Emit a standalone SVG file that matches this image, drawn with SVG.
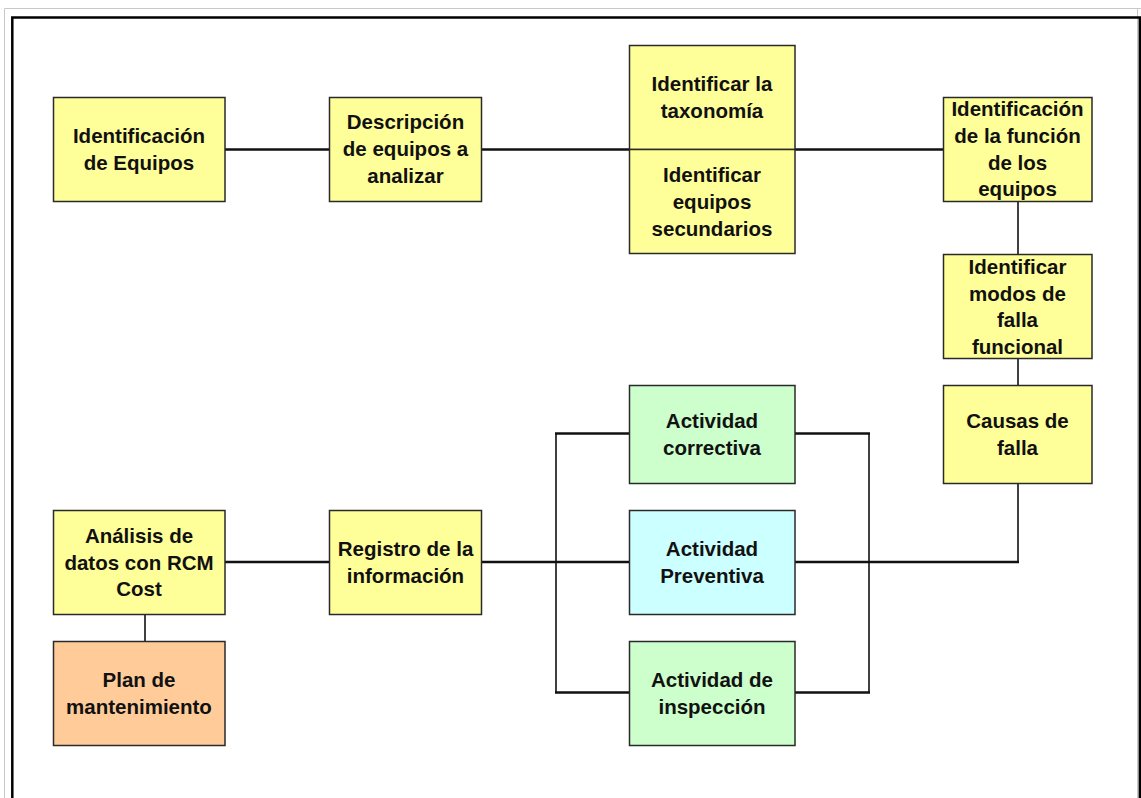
<svg xmlns="http://www.w3.org/2000/svg" width="1141" height="798" viewBox="0 0 1141 798">
  <style>
    .box { stroke: #2a2a2a; stroke-width: 1.5; }
    .yellow { fill: #ffff99; }
    .green { fill: #ccffcc; }
    .cyan { fill: #ccffff; }
    .orange { fill: #ffcc99; }
    .label { font-family: "Liberation Sans", Arial, sans-serif; font-weight: bold; font-size: 20.5px; fill: #111111; text-anchor: middle; }
    .wire { stroke: #111111; fill: none; }
    .thick { stroke-width: 2.6; }
    .thin { stroke-width: 1.6; }
  </style>

  <!-- page background and frame -->
  <rect x="0" y="0" width="1141" height="798" fill="#ffffff"/>
  <path d="M4.5 798 V8.5 H1141" fill="none" stroke="#c8c8c8" stroke-width="1"/>
  <line x1="1137.5" y1="8" x2="1137.5" y2="798" stroke="#c8c8c8" stroke-width="1"/>
  <path d="M12.3 798 V17.5 H1139.8 V798" fill="none" stroke="#000000" stroke-width="2.5"/>

  <!-- connectors -->
  <g id="connectors">
    <line class="wire thick" x1="225" y1="149.5" x2="329" y2="149.5"/>
    <line class="wire thick" x1="481" y1="149.5" x2="943" y2="149.5"/>
    <line class="wire thin" x1="1018" y1="201" x2="1018" y2="254"/>
    <line class="wire thin" x1="1018" y1="358" x2="1018" y2="385"/>
    <polyline class="wire thin" points="1018,483 1018,562"/>
    <line class="wire thick" x1="795" y1="562" x2="1019" y2="562"/>
    <line class="wire thick" x1="225" y1="562" x2="329" y2="562"/>
    <line class="wire thick" x1="481" y1="562" x2="629" y2="562"/>
    <line class="wire thin" x1="145" y1="614" x2="145" y2="641"/>
    <!-- left bracket -->
    <line class="wire thin" x1="556" y1="433" x2="556" y2="693"/>
    <line class="wire thick" x1="555" y1="433.5" x2="629" y2="433.5"/>
    <line class="wire thick" x1="555" y1="692.5" x2="629" y2="692.5"/>
    <!-- right bracket -->
    <line class="wire thin" x1="869" y1="433" x2="869" y2="693"/>
    <line class="wire thick" x1="795" y1="433.5" x2="870" y2="433.5"/>
    <line class="wire thick" x1="795" y1="692.5" x2="870" y2="692.5"/>
  </g>

  <!-- top row -->
  <g id="identificacion-equipos">
    <rect class="box yellow" x="53.5" y="97.5" width="171.5" height="104"/>
    <text class="label" x="139" y="142.5">Identificación</text>
    <text class="label" x="139" y="169.5">de Equipos</text>
  </g>

  <g id="descripcion-equipos">
    <rect class="box yellow" x="329.5" y="97.5" width="152" height="104"/>
    <text class="label" x="405.5" y="129">Descripción</text>
    <text class="label" x="405.5" y="156">de equipos a</text>
    <text class="label" x="405.5" y="183">analizar</text>
  </g>

  <g id="identificar-taxonomia">
    <rect class="box yellow" x="629.5" y="45.5" width="165.5" height="104"/>
    <text class="label" x="712" y="90.5">Identificar la</text>
    <text class="label" x="712" y="117.5">taxonomía</text>
  </g>

  <g id="identificar-secundarios">
    <rect class="box yellow" x="629.5" y="149.5" width="165.5" height="104"/>
    <text class="label" x="712" y="181.5">Identificar</text>
    <text class="label" x="712" y="208.5">equipos</text>
    <text class="label" x="712" y="235.5">secundarios</text>
  </g>

  <g id="funcion-equipos">
    <rect class="box yellow" x="943.5" y="97.5" width="148.5" height="104"/>
    <text class="label" x="1017.5" y="116">Identificación</text>
    <text class="label" x="1017.5" y="143">de la función</text>
    <text class="label" x="1017.5" y="169.5">de los</text>
    <text class="label" x="1017.5" y="196">equipos</text>
  </g>

  <!-- right column -->
  <g id="modos-falla">
    <rect class="box yellow" x="943.5" y="254.5" width="148.5" height="104"/>
    <text class="label" x="1017.5" y="273.5">Identificar</text>
    <text class="label" x="1017.5" y="300.5">modos de</text>
    <text class="label" x="1017.5" y="327">falla</text>
    <text class="label" x="1017.5" y="353.5">funcional</text>
  </g>

  <g id="causas-falla">
    <rect class="box yellow" x="943.5" y="385.5" width="148.5" height="98"/>
    <text class="label" x="1017.5" y="427.5">Causas de</text>
    <text class="label" x="1017.5" y="454.5">falla</text>
  </g>

  <!-- activities -->
  <g id="actividad-correctiva">
    <rect class="box green" x="629.5" y="385.5" width="165.5" height="98"/>
    <text class="label" x="712" y="427.5">Actividad</text>
    <text class="label" x="712" y="454.5">correctiva</text>
  </g>

  <g id="actividad-preventiva">
    <rect class="box cyan" x="629.5" y="510.5" width="165.5" height="104"/>
    <text class="label" x="712" y="555.5">Actividad</text>
    <text class="label" x="712" y="582.5">Preventiva</text>
  </g>

  <g id="actividad-inspeccion">
    <rect class="box green" x="629.5" y="641.5" width="165.5" height="104"/>
    <text class="label" x="712" y="687">Actividad de</text>
    <text class="label" x="712" y="714">inspección</text>
  </g>

  <!-- bottom row -->
  <g id="registro-informacion">
    <rect class="box yellow" x="329.5" y="510.5" width="152" height="104"/>
    <text class="label" x="405.5" y="555.5">Registro de la</text>
    <text class="label" x="405.5" y="582.5">información</text>
  </g>

  <g id="analisis-datos">
    <rect class="box yellow" x="53.5" y="510.5" width="171.5" height="104"/>
    <text class="label" x="139" y="543">Análisis de</text>
    <text class="label" x="139" y="569.5">datos con RCM</text>
    <text class="label" x="139" y="596">Cost</text>
  </g>

  <g id="plan-mantenimiento">
    <rect class="box orange" x="53.5" y="641.5" width="171.5" height="104"/>
    <text class="label" x="139" y="687">Plan de</text>
    <text class="label" x="139" y="714">mantenimiento</text>
  </g>
</svg>
